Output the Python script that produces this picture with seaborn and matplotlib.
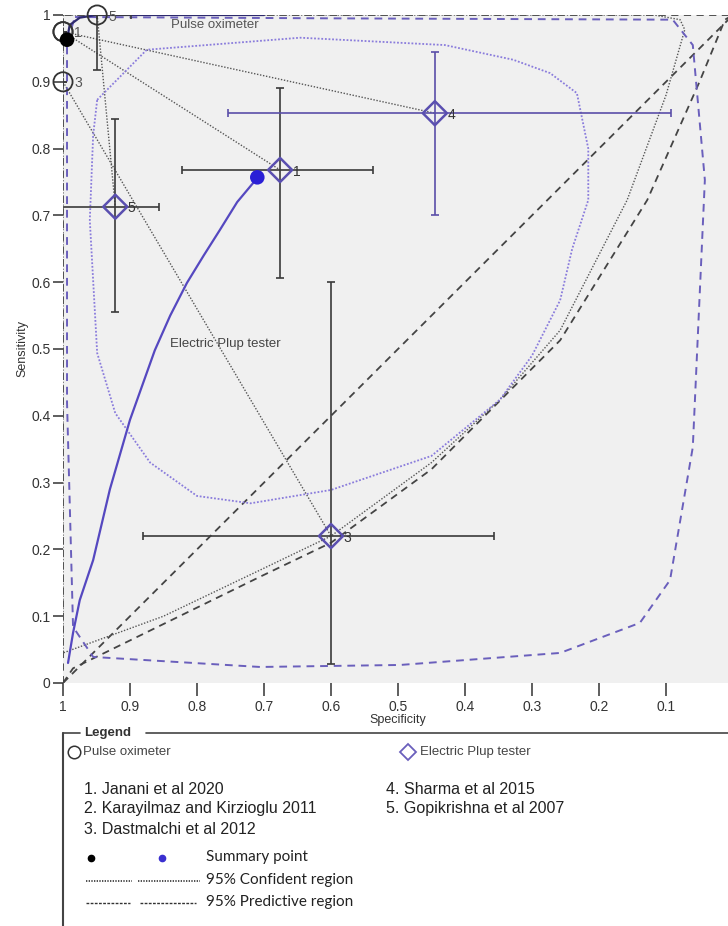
import numpy as np
import pandas as pd
import matplotlib
matplotlib.use("Agg")
import matplotlib.pyplot as plt
from matplotlib.lines import Line2D
import seaborn as sns

# ---------------- data ----------------
# Pulse oximeter studies (study 4 lies under study 1)
po_ids = ["1", "4", "3", "5"]
po_labels = ["1", "", "3", "5"]
po_spec = [1.0, 1.0, 1.0, 0.949]
po_sens = [0.975, 0.975, 0.90, 1.0]
po_spec_lo = [0.696, 0.913, 0.769, 0.949]
po_spec_hi = [1.0, 1.0, 1.0, 1.0]
po_sens_lo = [0.975, 0.975, 0.90, 0.918]
po_sens_hi = [0.975, 0.975, 0.90, 1.0]
po_summary = (0.994, 0.963)

# Electric pulp tester studies
ept_ids = ["1", "3", "4", "5"]
ept_spec = [0.676, 0.60, 0.445, 0.922]
ept_sens = [0.768, 0.22, 0.853, 0.713]
ept_spec_lo = [0.53, 0.32, 0.137, 0.787]
ept_spec_hi = [0.815, 0.843, 0.798, 0.987]
ept_sens_lo = [0.607, 0.028, 0.70, 0.555]
ept_sens_hi = [0.89, 0.60, 0.945, 0.845]
ept_summary = (0.71, 0.757)

# SROC curves
po_curve_spec = [0.994, 0.99, 0.975, 0.95, 0.85, 0.70]
po_curve_sens = [0.963, 0.985, 0.996, 1.0, 1.0, 1.0]
ept_curve_spec = [0.9925, 0.985, 0.975, 0.955, 0.93, 0.90, 0.863, 0.84, 0.815, 0.79, 0.766, 0.74, 0.71]
ept_curve_sens = [0.030, 0.075, 0.124, 0.184, 0.29, 0.394, 0.498, 0.55, 0.599, 0.64, 0.678, 0.72, 0.756]

# Pulse oximeter 95% confidence region (dotted black)
po_conf_spec = [1.0, 1.0, 0.85, 0.706, 0.60, 0.45, 0.348, 0.258, 0.158, 0.10, 0.072, 0.079, 0.118, 0.6, 1.0]
po_conf_sens = [1.0, 0.045, 0.10, 0.169, 0.22, 0.33, 0.424, 0.528, 0.723, 0.88, 0.978, 0.993, 1.0, 1.0, 1.0]
# dotted links between paired study estimates (pulse oximeter -> electric pulp tester)
link_from_spec = [1.0, 1.0, 1.0, 0.949]
link_from_sens = [0.975, 0.975, 0.90, 1.0]
link_to_spec = [0.676, 0.445, 0.60, 0.922]
link_to_sens = [0.768, 0.853, 0.22, 0.713]

# Pulse oximeter 95% predictive region (dashed black)
po_pred_spec = [1.0, 0.985, 0.706, 0.60, 0.45, 0.258, 0.128, 0.05, 0.012, 0.0, 1.0, 1.0]
po_pred_sens = [0.0, 0.022, 0.159, 0.21, 0.32, 0.513, 0.723, 0.90, 0.993, 1.0, 1.0, 0.0]

# chance line
chance_spec = [1.0, 0.0]
chance_sens = [0.0, 1.0]

# Electric pulp tester 95% confidence region (dotted purple)
ept_conf_spec = [0.949, 0.875, 0.646, 0.43, 0.328, 0.273, 0.233, 0.216, 0.216, 0.24, 0.258, 0.30, 0.348,
                 0.45, 0.60, 0.72, 0.80, 0.87, 0.922, 0.949, 0.96, 0.955, 0.949]
ept_conf_sens = [0.873, 0.948, 0.966, 0.955, 0.933, 0.913, 0.883, 0.80, 0.723, 0.65, 0.573, 0.49, 0.424,
                 0.34, 0.289, 0.269, 0.28, 0.33, 0.404, 0.494, 0.693, 0.82, 0.873]

# Electric pulp tester 95% predictive region (dashed purple)
ept_pred_spec = [0.982, 0.60, 0.09, 0.06, 0.042, 0.06, 0.094, 0.139, 0.258, 0.497, 0.706, 0.955, 0.985,
                 0.994, 0.994, 0.982]
ept_pred_sens = [0.997, 0.995, 0.993, 0.955, 0.753, 0.353, 0.154, 0.09, 0.045, 0.027, 0.024, 0.039, 0.084,
                 0.42, 0.96, 0.997]

x_ticks = [1, 0.9, 0.8, 0.7, 0.6, 0.5, 0.4, 0.3, 0.2, 0.1]
x_tick_labels = ["1", "0.9", "0.8", "0.7", "0.6", "0.5", "0.4", "0.3", "0.2", "0.1"]
y_ticks = [0, 0.1, 0.2, 0.3, 0.4, 0.5, 0.6, 0.7, 0.8, 0.9, 1]
y_tick_labels = ["0", "0.1", "0.2", "0.3", "0.4", "0.5", "0.6", "0.7", "0.8", "0.9", "1"]

study_names_left = ["1. Janani et al 2020", "2. Karayilmaz and Kirzioglu 2011", "3. Dastmalchi et al 2012"]
study_names_right = ["4. Sharma et al 2015", "5. Gopikrishna et al 2007"]

# ---------------- style ----------------
sns.set_theme(style="white")
plt.rcParams["font.family"] = ["Liberation Sans", "DejaVu Sans"]

W, H = 728, 926
fig = plt.figure(figsize=(W / 100, H / 100), dpi=100)
fig.patch.set_facecolor("white")

def fx(px):
    return px / W

def fy(py):
    return 1 - py / H

ax = fig.add_axes([fx(63), fy(683), 670 / W, 668 / H])
ax.set_facecolor("#f0f0f0")
ax.set_xlim(1, 0)
ax.set_ylim(0, 1)
for s in ax.spines.values():
    s.set_visible(False)

BLK_DOT = dict(color="#555555", lw=1.0, linestyle=(0, (1, 1.2)))
BLK_DASH = dict(color="#444444", lw=1.3, linestyle=(0, (4, 3)))
PUR_DOT = dict(color="#8a7cdc", lw=1.3, linestyle=(0, (1, 1)))
PUR_DASH = dict(color="#6a5fbc", lw=1.4, linestyle=(0, (4, 3)))

def curve(xs, ys, **kw):
    df = pd.DataFrame({"spec": xs, "sens": ys})
    sns.lineplot(data=df, x="spec", y="sens", sort=False, estimator=None, ax=ax, **kw)

# chance line
curve(chance_spec, chance_sens, **BLK_DASH)
# pulse oximeter regions
curve(po_pred_spec, po_pred_sens, **BLK_DASH)
curve(po_conf_spec, po_conf_sens, **BLK_DOT)
for i in range(len(link_from_spec)):
    curve([link_from_spec[i], link_to_spec[i]], [link_from_sens[i], link_to_sens[i]], **BLK_DOT)
# electric pulp tester regions
curve(ept_pred_spec, ept_pred_sens, **PUR_DASH)
curve(ept_conf_spec, ept_conf_sens, **PUR_DOT)
# SROC curves
curve(po_curve_spec, po_curve_sens, color="#2e2a6e", lw=1.6)
curve(ept_curve_spec, ept_curve_sens, color="#5548c0", lw=1.6)

# error bars
err_grey = "#3a3a3a"
ept_bar_colors = [err_grey, err_grey, "#5a4fa8", err_grey]
for i in range(len(ept_ids)):
    ax.errorbar(ept_spec[i], ept_sens[i],
                xerr=[[ept_spec_hi[i] - ept_spec[i]], [ept_spec[i] - ept_spec_lo[i]]],
                yerr=[[ept_sens[i] - ept_sens_lo[i]], [ept_sens_hi[i] - ept_sens[i]]],
                fmt="none", ecolor=ept_bar_colors[i], elinewidth=1.2, capsize=3, capthick=1.2, zorder=3)
for i in range(len(po_ids)):
    ax.errorbar(po_spec[i], po_sens[i],
                xerr=[[po_spec_hi[i] - po_spec[i]], [po_spec[i] - po_spec_lo[i]]],
                yerr=[[po_sens[i] - po_sens_lo[i]], [po_sens_hi[i] - po_sens[i]]],
                fmt="none", ecolor=err_grey, elinewidth=1.2, capsize=3, capthick=1.2, zorder=3)

# markers
ept_df = pd.DataFrame({"spec": ept_spec, "sens": ept_sens})
po_df = pd.DataFrame({"spec": po_spec, "sens": po_sens})
sns.scatterplot(data=ept_df, x="spec", y="sens", marker="D", s=150, facecolor="none",
                edgecolor="#5a4fb0", linewidth=1.8, ax=ax, zorder=5, clip_on=False)
sns.scatterplot(data=po_df, x="spec", y="sens", marker="o", s=190, facecolor="none",
                edgecolor="#333333", linewidth=1.3, ax=ax, zorder=5, clip_on=False)
sns.scatterplot(x=[po_summary[0]], y=[po_summary[1]], s=110, color="black", ax=ax, zorder=6,
                edgecolor="none", clip_on=False)
sns.scatterplot(x=[ept_summary[0]], y=[ept_summary[1]], s=110, color="#2a1fd6", ax=ax, zorder=6,
                edgecolor="none")

for sid, x, y in zip(ept_ids, ept_spec, ept_sens):
    ax.annotate(sid, (x, y), xytext=(9, -4), textcoords="offset points", fontsize=10, color="#333333")
for sid, x, y in zip(po_labels, po_spec, po_sens):
    if sid:
        ax.annotate(sid, (x, y), xytext=(8, -4), textcoords="offset points", fontsize=10,
                    color="#555555", annotation_clip=False)

ax.text(0.773, 0.985, "Pulse oximeter", fontsize=9.5, color="#555555", ha="center", va="center")
ax.text(0.758, 0.507, "Electric Plup tester", fontsize=9.5, color="#444444", ha="center", va="center")

ax.set_xticks(x_ticks)
ax.set_xticklabels(x_tick_labels)
ax.set_yticks(y_ticks)
ax.set_yticklabels(y_tick_labels)
ax.tick_params(axis="both", direction="out", length=7, width=1.1, colors="#333333",
               labelsize=10, labelcolor="#333333", pad=2)
ax.tick_params(axis="x", bottom=True, pad=3, length=9)
ax.tick_params(axis="y", left=True)
ax.set_xlabel("Specificity", fontsize=9, color="#333333", labelpad=0)
ax.set_ylabel("Sensitivity", fontsize=9, color="#333333", labelpad=2)

# ---------------- legend box ----------------
lc = "#444444"
fig.add_artist(Line2D([fx(63), fx(80)], [fy(733), fy(733)], color=lc, lw=1.2))
fig.add_artist(Line2D([fx(146), fx(730)], [fy(733), fy(733)], color=lc, lw=1.2))
fig.add_artist(Line2D([fx(63), fx(63)], [fy(733), fy(930)], color=lc, lw=1.5))
fig.text(fx(84), fy(733), "Legend", fontsize=9.5, fontweight="bold", color="#333333", va="center")

fig.add_artist(Line2D([fx(74)], [fy(752)], marker="o", markersize=9, markerfacecolor="none",
                      markeredgecolor="#333333", markeredgewidth=1.1))
fig.text(fx(83), fy(752), "Pulse oximeter", fontsize=9.5, color="#444444", va="center")
fig.add_artist(Line2D([fx(408)], [fy(752)], marker="D", markersize=8, markerfacecolor="none",
                      markeredgecolor="#6a5fbc", markeredgewidth=1.3))
fig.text(fx(420), fy(752), "Electric Plup tester", fontsize=9.5, color="#444444", va="center")

for i, t in enumerate(study_names_left):
    fig.text(fx(84), fy(789 + 20 * i), t, fontsize=11.5, color="#222222", va="center")
for i, t in enumerate(study_names_right):
    fig.text(fx(386), fy(789 + 20 * i), t, fontsize=11.5, color="#222222", va="center")

fig.add_artist(Line2D([fx(91)], [fy(858)], marker="o", markersize=4.5, color="black"))
fig.add_artist(Line2D([fx(162)], [fy(858)], marker="o", markersize=4.5, color="#3a2fd0"))
fig.text(fx(206), fy(857), "Summary point", fontsize=11, color="#222222", va="center",
         family=["Lato", "DejaVu Sans"])
fig.add_artist(Line2D([fx(86), fx(132)], [fy(881), fy(881)], color="#333333", lw=1.2,
                      linestyle=(0, (0.8, 0.8))))
fig.add_artist(Line2D([fx(138), fx(200)], [fy(881), fy(881)], color="#333333", lw=1.2,
                      linestyle=(0, (0.8, 0.8))))
fig.text(fx(206), fy(880), "95% Confident region", fontsize=11, color="#222222", va="center",
         family=["Lato", "DejaVu Sans"])
fig.add_artist(Line2D([fx(86), fx(130)], [fy(903), fy(903)], color="#333333", lw=1.0,
                      linestyle=(0, (2, 1))))
fig.add_artist(Line2D([fx(140), fx(196)], [fy(903), fy(903)], color="#333333", lw=1.0,
                      linestyle=(0, (2, 1))))
fig.text(fx(206), fy(902), "95% Predictive region", fontsize=11, color="#222222", va="center",
         family=["Lato", "DejaVu Sans"])

fig.savefig("out.png", dpi=100)
